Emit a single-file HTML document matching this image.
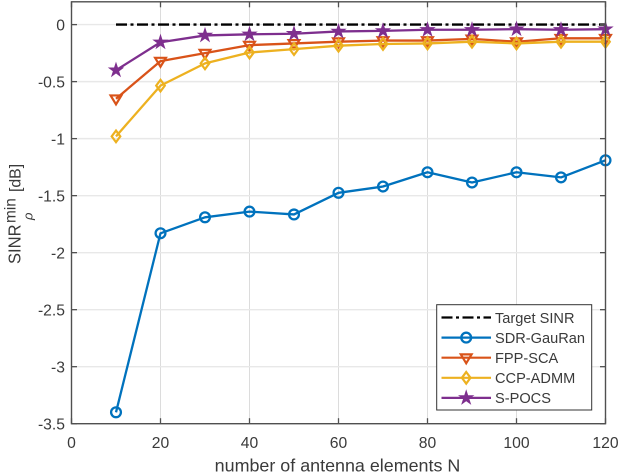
<!DOCTYPE html>
<html>
<head>
<meta charset="utf-8">
<style>
html,body{margin:0;padding:0;background:#fff;width:620px;height:474px;overflow:hidden}
svg{display:block}
text{font-family:"Liberation Sans",sans-serif;fill:#3a3a3a}
</style>
</head>
<body>
<svg id="chart" xmlns="http://www.w3.org/2000/svg" width="620" height="474" viewBox="0 0 620 474"></svg>
<script>
const antennaCounts = [10,20,30,40,50,60,70,80,90,100,110,120];
const targetValues = [0,0,0,0,0,0,0,0,0,0,0,0];
const sdrValues = [-3.4,-1.83,-1.69,-1.64,-1.665,-1.475,-1.42,-1.295,-1.385,-1.295,-1.34,-1.19];
const fppValues = [-0.65,-0.32,-0.25,-0.18,-0.165,-0.15,-0.14,-0.14,-0.125,-0.15,-0.12,-0.12];
const ccpValues = [-0.98,-0.535,-0.34,-0.245,-0.215,-0.185,-0.17,-0.165,-0.15,-0.165,-0.15,-0.15];
const pocsValues = [-0.4,-0.155,-0.095,-0.085,-0.08,-0.06,-0.055,-0.045,-0.045,-0.04,-0.045,-0.04];
const xTicks = [0,20,40,60,80,100,120];
const yTicks = [0,-0.5,-1,-1.5,-2,-2.5,-3,-3.5];
const seriesNames = ['Target SINR','SDR-GauRan','FPP-SCA','CCP-ADMM','S-POCS'];

const NS = 'http://www.w3.org/2000/svg';
const svg = document.getElementById('chart');
const L = 71.5, R = 605.5, T = 1.8, B = 423.7;
const xMin = 0, xMax = 120, yMin = -3.5, yMax = 0.2;
function xScale(v){ return L + (v - xMin) / (xMax - xMin) * (R - L); }
function yScale(v){ return B - (v - yMin) / (yMax - yMin) * (B - T); }
function mk(tag, attrs, parent){
  const el = document.createElementNS(NS, tag);
  for (const k in attrs) el.setAttribute(k, attrs[k]);
  (parent || svg).appendChild(el);
  return el;
}
function label(v){ return String(v); }

// grid
const grid = mk('g', {});


xTicks.slice(1, -1).forEach(function(t){
  const line = mk('line', {x1:xScale(t), x2:xScale(t), y1:T, y2:B, stroke:'#dcdcdc', 'stroke-width':1}, grid);
  
  
});
yTicks.slice(1, -1).concat([0]).forEach(function(t){
  const line = mk('line', {x1:L, x2:R, y1:yScale(t), y2:yScale(t), stroke:'#e8e8e8', 'stroke-width':1.4}, grid);
  
  
});

// marker drawing
function starPoints(cx, cy, r){
  const pts = [];
  for (let i = 0; i < 10; i++){
    const rad = i % 2 ? r * 0.382 : r;
    const a = -Math.PI / 2 + i * Math.PI / 5;
    pts.push((cx + rad * Math.cos(a)).toFixed(2) + ',' + (cy + rad * Math.sin(a)).toFixed(2));
  }
  return pts.join(' ');
}
function drawMarker(kind, cx, cy, color, parent){
  if (kind === 'circle'){
    return mk('circle', {cx:cx, cy:cy, r:4.9, fill:'none', stroke:color, 'stroke-width':2.3}, parent);
  }
  if (kind === 'triangle'){
    return mk('polygon', {points:(cx-5.4)+','+(cy-3.3)+' '+(cx+5.4)+','+(cy-3.3)+' '+cx+','+(cy+5.6), fill:'none', stroke:color, 'stroke-width':2.2}, parent);
  }
  if (kind === 'diamond'){
    return mk('polygon', {points:cx+','+(cy-5.8)+' '+(cx+4.3)+','+cy+' '+cx+','+(cy+5.8)+' '+(cx-4.3)+','+cy, fill:'none', stroke:color, 'stroke-width':2.2}, parent);
  }
  return mk('polygon', {points:starPoints(cx, cy, 7), fill:color, stroke:color, 'stroke-width':1}, parent);
}

// series
function drawSeries(values, color, kind, name, dash, width){
  const g = mk('g', {});
  
  
  const pts = antennaCounts.map(function(x, i){ return xScale(x).toFixed(2) + ',' + yScale(values[i]).toFixed(2); }).join(' ');
  const attrs = {points:pts, fill:'none', stroke:color, 'stroke-width':width, 'stroke-linejoin':'round'};
  if (dash) attrs['stroke-dasharray'] = dash;
  mk('polyline', attrs, g);
  if (kind) antennaCounts.forEach(function(x, i){
    const m = drawMarker(kind, xScale(x), yScale(values[i]), color, g);
    
    
  });
}
drawSeries(sdrValues, '#0072BD', 'circle', 'series-sdr-gauran', null, 2.3);
drawSeries(targetValues, '#000000', null, 'series-target-sinr', '11 3.5 3 3.5', 2.4);
drawSeries(fppValues, '#D95319', 'triangle', 'series-fpp-sca', null, 2.3);
drawSeries(ccpValues, '#EDB120', 'diamond', 'series-ccp-admm', null, 2.3);
drawSeries(pocsValues, '#7E2F8E', 'star', 'series-s-pocs', null, 2.3);

// axes box
const axes = mk('g', {});


mk('rect', {x:L, y:T, width:R-L, height:B-T, fill:'none', stroke:'#505050', 'stroke-width':1.4}, axes);
xTicks.forEach(function(t){
  const x = xScale(t);
  mk('line', {x1:x, x2:x, y1:B, y2:B-5.5, stroke:'#505050', 'stroke-width':1.3}, axes);
  mk('line', {x1:x, x2:x, y1:T, y2:T+5.5, stroke:'#505050', 'stroke-width':1.3}, axes);
  const txt = mk('text', {x:x, y:448, 'text-anchor':'middle', 'font-size':15.7}, axes);
  txt.textContent = label(t);
  
  
});
yTicks.forEach(function(t){
  const y = yScale(t);
  mk('line', {x1:L, x2:L+5.5, y1:y, y2:y, stroke:'#505050', 'stroke-width':1.3}, axes);
  mk('line', {x1:R, x2:R-5.5, y1:y, y2:y, stroke:'#505050', 'stroke-width':1.3}, axes);
  const txt = mk('text', {x:65, y:y+6, 'text-anchor':'end', 'font-size':15.7}, axes);
  txt.textContent = label(t);
  
  
});

// legend
const legend = mk('g', {});


mk('rect', {x:436.7, y:304.7, width:155, height:105.3, fill:'#fff', stroke:'#333', 'stroke-width':1}, legend);
const legendColors = ['#000000','#0072BD','#D95319','#EDB120','#7E2F8E'];
const legendKinds = [null,'circle','triangle','diamond','star'];
seriesNames.forEach(function(n, i){
  const y = 317.5 + i * 20.1;
  const entry = mk('g', {}, legend);
  
  
  const a = {x1:441.5, x2:491, y1:y, y2:y, stroke:legendColors[i], 'stroke-width':2.2};
  if (i === 0) a['stroke-dasharray'] = '11 3.5 3 3.5';
  mk('line', a, entry);
  if (legendKinds[i]) drawMarker(legendKinds[i], 466.2, y, legendColors[i], entry);
  const txt = mk('text', {x:495, y:y+5.3, 'font-size':14.6}, entry);
  txt.textContent = n;
});

// axis titles
const xt = mk('text', {x:337.5, y:471.5, 'text-anchor':'middle', 'font-size':17.9});
xt.textContent = 'number of antenna elements N';



const yt = mk('g', {transform:'translate(20.5,264) rotate(-90)'});


const s1 = mk('text', {transform:'scale(0.92,1)', x:0, y:0, 'font-size':18}, yt); s1.textContent = 'SINR';
const s2 = mk('text', {x:41, y:-5, 'font-size':15.4}, yt); s2.textContent = 'min';
const s3 = mk('text', {x:44, y:12, 'font-size':13, 'font-style':'italic'}, yt); s3.textContent = 'ρ';
const s4 = mk('text', {x:72, y:0, 'font-size':15.8}, yt); s4.textContent = '[dB]';
</script>
</body>
</html>
